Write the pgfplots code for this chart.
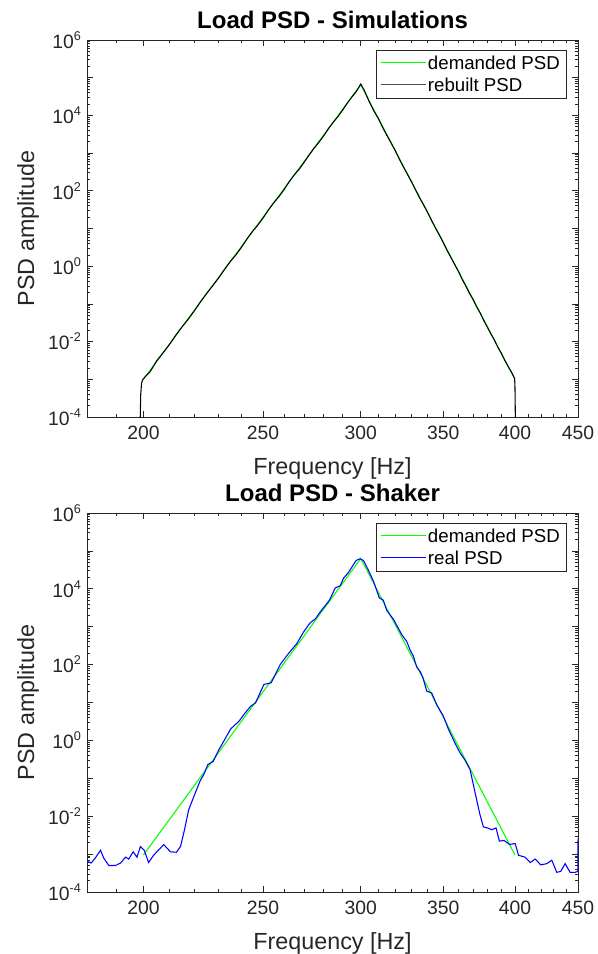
\documentclass[border=0pt]{standalone}
\usepackage{fontspec}
\setmainfont{Liberation Sans}
\usepackage{pgfplots}
\pgfplotsset{compat=1.18}

\definecolor{axgray}{rgb}{0.15,0.15,0.15}
\definecolor{mgreen}{rgb}{0,1,0}
\definecolor{mblue}{rgb}{0,0,1}

\newcommand{\pw}[1]{10\raisebox{6pt}{\fontsize{9.5}{10}\selectfont #1}}
% legend sample drawn as a coloured rule
\newcommand{\lsample}[1]{\node[inner sep=0pt, anchor=west] at (0pt,0pt) {\textcolor{#1}{\rule{34pt}{0.8pt}}};}

\begin{document}
\begin{tikzpicture}
\path[use as bounding box] (-65.25pt,-402.75pt) rectangle (383.25pt,312.75pt);

\begin{axis}[
    scale only axis, width=368.25pt, height=282.75pt,
    xmode=log, ymode=log,
    xmin=180, xmax=450, ymin=1e-4, ymax=1e6,
    xtick={200,250,300,350,400,450},
    xticklabels={200,250,300,350,400,450},
    minor xtick={180,190,210,220,230,240,260,270,280,290,310,320,330,340,360,370,380,390,410,420,430,440},
    ytick={1e-4,1e-3,1e-2,1e-1,1,1e1,1e2,1e3,1e4,1e5,1e6},
    yticklabels={\pw{-4},,\pw{-2},,\pw{0},,\pw{2},,\pw{4},,\pw{6}},
    minor ytick={2e-4,3e-4,4e-4,5e-4,6e-4,7e-4,8e-4,9e-4,
                 2e-3,3e-3,4e-3,5e-3,6e-3,7e-3,8e-3,9e-3,
                 2e-2,3e-2,4e-2,5e-2,6e-2,7e-2,8e-2,9e-2,
                 0.2,0.3,0.4,0.5,0.6,0.7,0.8,0.9,
                 2,3,4,5,6,7,8,9,
                 20,30,40,50,60,70,80,90,
                 200,300,400,500,600,700,800,900,
                 2e3,3e3,4e3,5e3,6e3,7e3,8e3,9e3,
                 2e4,3e4,4e4,5e4,6e4,7e4,8e4,9e4,
                 2e5,3e5,4e5,5e5,6e5,7e5,8e5,9e5},
    tick align=inside,
    major tick length=4.5pt, minor tick length=2.5pt,
    tick style={axgray, line width=0.5pt},
    axis line style={axgray, line width=0.75pt},
    tick label style={font=\fontsize{14.5}{16}\selectfont, text=axgray},
    xticklabel style={yshift=-3pt},
    yticklabel style={xshift=-1pt},
    xlabel={Frequency [Hz]},
    ylabel={PSD amplitude},
    xlabel style={font=\fontsize{17.5}{19}\selectfont, text=axgray, at={(axis description cs:0.5,-0.137)}, anchor=center},
    ylabel style={font=\fontsize{17.5}{19}\selectfont, text=axgray, at={(axis description cs:-0.12,0.5)}, anchor=center},
    title={Load PSD - Simulations},
    title style={font=\bfseries\fontsize{18}{20}\selectfont, text=black, at={(0.5,1)}, anchor=south, yshift=-1pt},
    legend style={at={(1,1)}, anchor=north east, xshift=-9pt, yshift=-7.5pt,
      draw=axgray, fill=white, font=\fontsize{14}{16}\selectfont,
      inner xsep=3pt, inner ysep=2.5pt, row sep=2pt,
      nodes={inner xsep=1.5pt, inner ysep=1.5pt}},
    legend cell align=left,
]
\addplot[color=mgreen, line width=0.8pt, legend image code/.code={\lsample{mgreen}}]
  coordinates {(200,1e-3) (300,6.5e4) (400,1e-3)};
\addlegendentry{demanded PSD}
\addplot[color=black, line width=0.8pt, legend image code/.code={\lsample{black!70}}] coordinates {
 (198.6,1e-5) (198.8,1e-4) (199.0,4e-4) (199.3,8e-4) (199.8,1.0e-3)
 (201,1.25e-3) (202.5,1.6e-3) (205,3.1e-3) (207,4.6e-3) (210,8.5e-3)
 (212.5,1.5e-2) (215,2.5e-2) (217.5,4.0e-2) (220,6.7e-2) (222.5,1.15e-1)
 (225,0.19) (227.5,0.30) (230,0.48) (232.5,0.80) (235,1.3) (237.5,1.95)
 (240,3.1) (242.5,5.2) (245,8.2) (247.5,12.2) (250,19) (252.5,31)
 (255,48) (257.5,70) (260,108) (262.5,175) (265,265) (267.5,380)
 (270,580) (272.5,900) (275,1360) (277.5,1950) (280,2900) (282.5,4500)
 (285,6600) (287.5,9300) (290,13800) (292.5,21000) (295,30500)
 (297.5,43000) (300,68000) (302,46000) (305,22000) (307.5,13000)
 (310,8300) (312.5,4800) (315,2950) (317.5,1850) (320,1150) (322.5,680)
 (325,420) (327.5,265) (330,168) (332.5,102) (335,63) (337.5,41)
 (340,26) (342.5,16) (345,10) (347.5,6.6) (350,4.2) (352.5,2.6)
 (355,1.7) (357.5,1.1) (360,0.73) (362.5,0.45) (365,0.30) (367.5,0.19)
 (370,0.13) (372.5,0.083) (375,0.057) (377.5,0.036) (380,0.024)
 (382.5,0.016) (385,0.011) (387.5,0.0071) (390,0.0049) (392.5,0.0032)
 (395,0.0022) (398,1.45e-3) (399.8,1.05e-3) (400.0,7e-4) (400.15,3e-4)
 (400.3,1e-4) (400.4,1e-5)};
\addlegendentry{rebuilt PSD}
\end{axis}

\begin{axis}[
    at={(0,-356.25pt)},
    scale only axis, width=368.25pt, height=284.25pt,
    xmode=log, ymode=log,
    xmin=180, xmax=450, ymin=1e-4, ymax=1e6,
    xtick={200,250,300,350,400,450},
    xticklabels={200,250,300,350,400,450},
    minor xtick={180,190,210,220,230,240,260,270,280,290,310,320,330,340,360,370,380,390,410,420,430,440},
    ytick={1e-4,1e-3,1e-2,1e-1,1,1e1,1e2,1e3,1e4,1e5,1e6},
    yticklabels={\pw{-4},,\pw{-2},,\pw{0},,\pw{2},,\pw{4},,\pw{6}},
    minor ytick={2e-4,3e-4,4e-4,5e-4,6e-4,7e-4,8e-4,9e-4,
                 2e-3,3e-3,4e-3,5e-3,6e-3,7e-3,8e-3,9e-3,
                 2e-2,3e-2,4e-2,5e-2,6e-2,7e-2,8e-2,9e-2,
                 0.2,0.3,0.4,0.5,0.6,0.7,0.8,0.9,
                 2,3,4,5,6,7,8,9,
                 20,30,40,50,60,70,80,90,
                 200,300,400,500,600,700,800,900,
                 2e3,3e3,4e3,5e3,6e3,7e3,8e3,9e3,
                 2e4,3e4,4e4,5e4,6e4,7e4,8e4,9e4,
                 2e5,3e5,4e5,5e5,6e5,7e5,8e5,9e5},
    tick align=inside,
    major tick length=4.5pt, minor tick length=2.5pt,
    tick style={axgray, line width=0.5pt},
    axis line style={axgray, line width=0.75pt},
    tick label style={font=\fontsize{14.5}{16}\selectfont, text=axgray},
    xticklabel style={yshift=-3pt},
    yticklabel style={xshift=-1pt},
    xlabel={Frequency [Hz]},
    ylabel={PSD amplitude},
    xlabel style={font=\fontsize{17.5}{19}\selectfont, text=axgray, at={(axis description cs:0.5,-0.137)}, anchor=center},
    ylabel style={font=\fontsize{17.5}{19}\selectfont, text=axgray, at={(axis description cs:-0.12,0.5)}, anchor=center},
    title={Load PSD - Shaker},
    title style={font=\bfseries\fontsize{18}{20}\selectfont, text=black, at={(0.5,1)}, anchor=south, yshift=-1pt},
    legend style={at={(1,1)}, anchor=north east, xshift=-9pt, yshift=-7.5pt,
      draw=axgray, fill=white, font=\fontsize{14}{16}\selectfont,
      inner xsep=3pt, inner ysep=2.5pt, row sep=2pt,
      nodes={inner xsep=1.5pt, inner ysep=1.5pt}},
    legend cell align=left,
]
\addplot[color=mgreen, line width=0.8pt, legend image code/.code={\lsample{mgreen}}]
  coordinates {(200,9.5e-4) (300,6.3e4) (400,9.5e-4)};
\addlegendentry{demanded PSD}
\addplot[color=mblue, line width=0.8pt, legend image code/.code={\lsample{mblue}}] coordinates {
 (180.0,6.5e-4) (181.4,5.8e-4) (182.8,7.9e-4) (184.6,1.26e-3) (185.7,7.9e-4)
 (187.5,5.0e-4) (189.8,5.0e-4) (191.6,5.8e-4) (193.4,8.3e-4) (194.6,7.4e-4)
 (196.2,1.15e-3) (197.6,8.3e-4) (198.9,1.58e-3) (200.3,1.26e-3)
 (201.9,6.0e-4) (203.9,9.5e-4) (207.7,1.78e-3) (210.3,1.15e-3)
 (212.7,1.12e-3) (214.3,1.58e-3) (215.9,4.4e-3) (217.6,1.48e-2)
 (219.7,3.3e-2) (222.2,8.3e-2) (223.8,0.126) (225.5,0.23) (227.8,0.28)
 (230.2,0.57) (232.3,0.95) (235.3,2.0) (239.0,3.2) (241.2,4.8)
 (244.2,7.9) (246.5,9.8) (250.4,30) (253.8,33) (258.1,100) (262.1,195)
 (266.2,355) (269.5,708) (272.9,1260) (275.5,1585) (279.0,2820)
 (283.0,5000) (286.0,10500) (288.7,12000) (290.5,19000) (293.2,27000)
 (297.4,56000) (299.6,62000) (301.5,56000) (304.3,31000) (307.2,15800)
 (310.6,5750) (312.9,5000) (314.9,2700) (318.8,1585) (323.9,617)
 (326.9,407) (328.9,245) (331.0,166) (333.0,87) (335.1,66) (336.8,47)
 (339.3,20) (342.5,17.8) (345.7,8.7) (350.0,4.4) (353.3,2.0) (357.7,0.85)
 (361.1,0.47) (364.5,0.30) (367.9,0.17) (371.4,0.041) (374.8,0.011)
 (377.2,5.2e-3) (380.0,4.9e-3) (383.1,4.4e-3) (386.2,4.9e-3)
 (388.6,2.2e-3) (392.0,2.3e-3) (396.0,1.8e-3) (400.2,1.9e-3)
 (402.7,9.3e-4) (407.7,8.3e-4) (411.6,6.0e-4) (415.4,7.4e-4)
 (419.8,5.2e-4) (424.5,5.6e-4) (428.5,6.9e-4) (432.5,3.3e-4)
 (435.7,3.5e-4) (439.3,5.6e-4) (443.4,3.3e-4) (447.5,3.3e-4)
 (449.8,3.5e-4) (450,2.6e-3)};
\addlegendentry{real PSD}
\end{axis}
\end{tikzpicture}
\end{document}
